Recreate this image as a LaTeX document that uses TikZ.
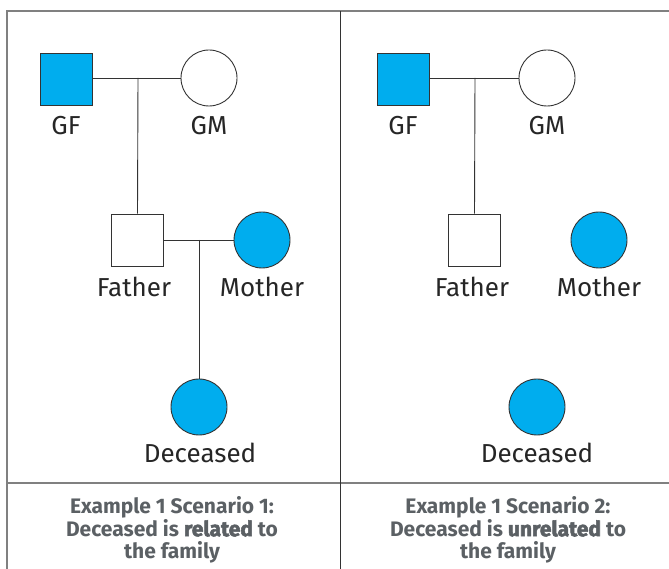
\documentclass[tikz,border=0pt]{standalone}
\usepackage{fontspec}
\setmainfont{Fira Sans}
\newfontfamily\capfont{Fira Sans}
\newfontfamily\capbold[BoldFeatures={FakeBold=2.5}]{Fira Sans}
\definecolor{pblue}{HTML}{00ADEE}
\definecolor{framec}{HTML}{808080}
\definecolor{captext}{HTML}{5B6064}
\definecolor{linec}{HTML}{333333}
\tikzset{
  sq/.style={draw=linec, line width=0.9pt, minimum size=52pt, inner sep=0pt, rectangle},
  ci/.style={draw=linec, line width=0.9pt, minimum size=56pt, inner sep=0pt, circle},
  aff/.style={fill=pblue},
  lab/.style={font=\fontsize{26}{28}\selectfont, text=black!85, inner sep=0pt},
  rel/.style={draw=linec, line width=0.9pt},
  captionbox/.style={font=\capfont\bfseries\fontsize{21}{22.5}\selectfont, text=captext, align=center, inner sep=0pt}
}
\begin{document}
\begin{tikzpicture}[x=1pt,y=1pt]
\useasboundingbox (0,0) rectangle (669,569);
% frame
\draw[framec, line width=1.2pt] (7,0) -- (7,558) -- (669,558);
\draw[framec, line width=1.2pt] (7,86) -- (669,86);
\draw[black!80, line width=1pt] (340,0) -- (340,558);
% panel 1
\node[sq,aff] (gf1) at (66,490) {};
\node[ci] (gm1) at (209,491) {};
\coordinate (j1) at (138,491);
\node[sq] (fa1) at (137.5,329) {};
\node[ci,aff] (mo1) at (262,329) {};
\coordinate (j2) at (199,329);
\node[ci,aff] (de1) at (199,162) {};
\draw[rel] (gf1.east |- j1) -- (gm1.west);
\draw[rel] (j1) -- (fa1.north);
\draw[rel] (fa1.east) -- (mo1.west);
\draw[rel] (j2) -- (de1.north);
\node[lab] (lgf1) at (66,443) {GF};
\node[lab] (lgm1) at (209,443) {GM};
\node[lab] (lfa1) at (134,282) {Father};
\node[lab] (lmo1) at (262,282) {Mother};
\node[lab] (lde1) at (200,116) {Deceased};
% panel 2
\node[sq,aff] (gf2) at (403,490) {};
\node[ci] (gm2) at (547,491) {};
\coordinate (k1) at (475,491);
\node[sq] (fa2) at (474.5,329) {};
\node[ci,aff] (mo2) at (599,329) {};
\node[ci,aff] (de2) at (537,162) {};
\draw[rel] (gf2.east |- k1) -- (gm2.west);
\draw[rel] (k1) -- (fa2.north);
\node[lab] (lgf2) at (403,443) {GF};
\node[lab] (lgm2) at (547,443) {GM};
\node[lab] (lfa2) at (472,282) {Father};
\node[lab] (lmo2) at (599,282) {Mother};
\node[lab] (lde2) at (537,116) {Deceased};
% captions
\node[captionbox] (c1) at (172,39) {Example 1 Scenario 1:\\Deceased is {\capbold\bfseries related} to\\the family};
\node[captionbox] (c2) at (508,39) {Example 1 Scenario 2:\\Deceased is {\capbold\bfseries unrelated} to\\the family};
\end{tikzpicture}
\end{document}
